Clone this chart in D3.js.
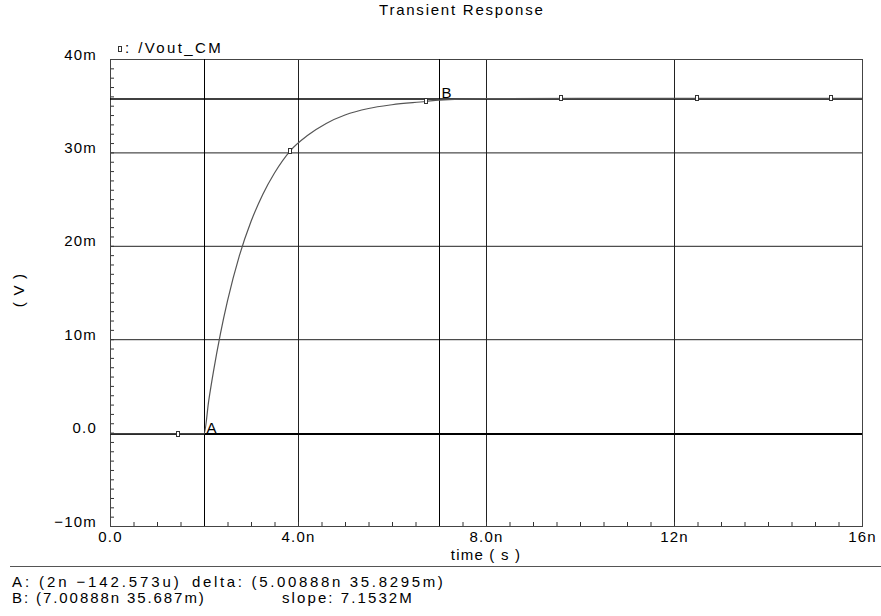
<!DOCTYPE html>
<html>
<head>
<meta charset="utf-8">
<script src="https://cdn.jsdelivr.net/npm/d3@7"></script>
<style>
  body { margin: 0; background: #fff; }
  svg text { font-family: "Liberation Sans", Arial, sans-serif; font-size: 15px; fill: #000;
             letter-spacing: 1.2px; }
</style>
</head>
<body>
<div id="chart"></div>
<script>
// trace /Vout_CM, time in ns, voltage in mV
const timeNs = [0, 0.5, 1.0, 1.5, 2.0, 2.1, 2.2, 2.35, 2.5, 2.75, 3.0, 3.25, 3.5, 3.84, 4.2, 4.6, 5.0, 5.5, 6.0, 6.72, 7.0, 8.0, 10, 12, 14, 16];
const voutMv = [-0.14, -0.14, -0.14, -0.14, -0.14, 3.4, 6.5, 10.6, 14.1, 18.9, 22.6, 25.5, 27.8, 30.2, 31.8, 33.1, 34.0, 34.7, 35.1, 35.45, 35.6, 35.75, 35.8, 35.8, 35.8, 35.8];

// little symbols drawn along the trace
const symbolTimeNs = [1.45, 3.84, 6.72, 9.6, 12.48, 15.35];
const symbolMv = [-0.14, 30.2, 35.45, 35.8, 35.8, 35.8];

// axes
const xTicks = [0, 4, 8, 12, 16];
const xTickLabels = ["0.0", "4.0n", "8.0n", "12n", "16n"];
const yTicks = [-10, 0, 10, 20, 30, 40];
const yTickLabels = ["\u221210m", "0.0", "10m", "20m", "30m", "40m"];

// markers A and B
const markerNames = ["A", "B"];
const markerTimeNs = [2, 7.00888];
const markerMv = [-0.142573, 35.687];
const readoutLeft = ["A: (2n \u2212142.573u)", "B: (7.00888n 35.687m)"];
const readoutRight = ["delta: (5.00888n 35.8295m)", "slope: 7.1532M"];

const title = "Transient Response";
const traceName = ": /Vout_CM";

const W = 881, H = 616;
const margin = { top: 59, right: 19, bottom: 90, left: 110 };
const plotW = W - margin.left - margin.right;
const plotH = H - margin.top - margin.bottom;

const svg = d3.select("#chart").append("svg")
    .attr("width", W)
    .attr("height", H);

const x = d3.scaleLinear().domain([0, 16]).range([margin.left, margin.left + plotW]);
const y = d3.scaleLinear().domain([-10, 40]).range([margin.top + plotH, margin.top]);

// title
svg.append("text")
    .attr("x", 379).attr("y", 15)
    .attr("textLength", 165).attr("lengthAdjust", "spacing")
    .text(title);

// grid lines
svg.append("g")
    .attr("transform", `translate(0,${margin.top + plotH})`)
    .call(d3.axisBottom(x).tickValues([4, 8, 12]).tickSize(-plotH).tickFormat(""))
    .call(g => g.select(".domain").remove())
    .selectAll("line").attr("stroke", "#222");

svg.append("g")
    .attr("transform", `translate(${margin.left},0)`)
    .call(d3.axisLeft(y).tickValues([10, 20, 30]).tickSize(-plotW).tickFormat(""))
    .call(g => g.select(".domain").remove())
    .selectAll("line").attr("stroke", "#222");

// minor ticks
svg.append("g")
    .attr("transform", `translate(0,${margin.top + plotH})`)
    .call(d3.axisBottom(x).ticks(40).tickSize(-4).tickFormat(""))
    .call(g => g.select(".domain").remove())
    .selectAll("line").attr("stroke", "#333");

svg.append("g")
    .attr("transform", `translate(${margin.left},0)`)
    .call(d3.axisLeft(y).ticks(50).tickSize(-4).tickFormat(""))
    .call(g => g.select(".domain").remove())
    .selectAll("line").attr("stroke", "#333");

// plot frame
svg.append("rect")
    .attr("x", margin.left + 0.5).attr("y", margin.top + 0.5)
    .attr("width", plotW).attr("height", plotH)
    .attr("fill", "none").attr("stroke", "#444");

// tick labels
svg.append("g")
    .attr("transform", `translate(0,${margin.top + plotH})`)
    .call(d3.axisBottom(x).tickValues(xTicks).tickSize(0).tickPadding(16)
        .tickFormat((d, i) => xTickLabels[i]))
    .call(g => g.select(".domain").remove())
    .selectAll("text")
    .attr("dy", 0);

svg.append("g")
    .attr("transform", `translate(${margin.left},0)`)
    .call(d3.axisLeft(y).tickValues(yTicks).tickSize(0).tickPadding(13)
        .tickFormat((d, i) => yTickLabels[i]))
    .call(g => g.select(".domain").remove())
    .selectAll("text")
    .attr("dy", 0);

svg.selectAll(".tick text").attr("fill", "#000");
svg.selectAll("g").attr("font-family", null).attr("font-size", null);

// axis titles
svg.append("text")
    .attr("x", margin.left + plotW / 2).attr("y", 560)
    .attr("text-anchor", "middle")
    .text("time ( s )");

svg.append("text")
    .attr("transform", "translate(24,290) rotate(-90)")
    .attr("text-anchor", "middle")
    .text("( V )");

// marker cross lines
markerNames.forEach((name, i) => {
    const mx = Math.round(x(markerTimeNs[i])) + 0.5;
    const my = Math.round(y(markerMv[i]));
    svg.append("line")
        .attr("x1", mx).attr("x2", mx)
        .attr("y1", margin.top).attr("y2", margin.top + plotH)
        .attr("stroke", "#000");
    svg.append("line")
        .attr("x1", margin.left).attr("x2", margin.left + plotW)
        .attr("y1", my).attr("y2", my)
        .attr("stroke", "#000").attr("stroke-width", name === "A" ? 2 : 1.5);
    svg.append("text")
        .attr("x", mx + 2).attr("y", my - 1)
        .style("letter-spacing", "0px")
        .text(name);
});

// trace
const line = d3.line()
    .x((d, i) => x(timeNs[i]))
    .y(d => y(d))
    .curve(d3.curveMonotoneX);

svg.append("path")
    .datum(voutMv)
    .attr("d", line)
    .attr("fill", "none")
    .attr("stroke", "#555")
    .attr("stroke-width", 1.2);

svg.append("g").selectAll("rect")
    .data(symbolMv)
    .join("rect")
    .attr("x", (d, i) => Math.round(x(symbolTimeNs[i])) - 1.5)
    .attr("y", d => Math.round(y(d)) - 2.5)
    .attr("width", 3).attr("height", 5)
    .attr("fill", "#fff").attr("stroke", "#333");

// legend
svg.append("rect")
    .attr("x", 118.5).attr("y", 46.5).attr("width", 3).attr("height", 5)
    .attr("fill", "#fff").attr("stroke", "#333");
svg.append("text")
    .attr("x", 125).attr("y", 53)
    .attr("textLength", 97).attr("lengthAdjust", "spacing")
    .text(traceName);

// readout area
svg.append("line")
    .attr("x1", 10).attr("x2", W)
    .attr("y1", 566.5).attr("y2", 566.5)
    .attr("stroke", "#555");

const readW = [[168, 252], [193, 131]];
const readRightX = [192, 282];
readoutLeft.forEach((txt, i) => {
    svg.append("text")
        .attr("x", 12).attr("y", 587 + i * 16)
        .attr("textLength", readW[i][0]).attr("lengthAdjust", "spacing")
        .text(txt);
    svg.append("text")
        .attr("x", readRightX[i]).attr("y", 587 + i * 16)
        .attr("textLength", readW[i][1]).attr("lengthAdjust", "spacing")
        .text(readoutRight[i]);
});
</script>
</body>
</html>
